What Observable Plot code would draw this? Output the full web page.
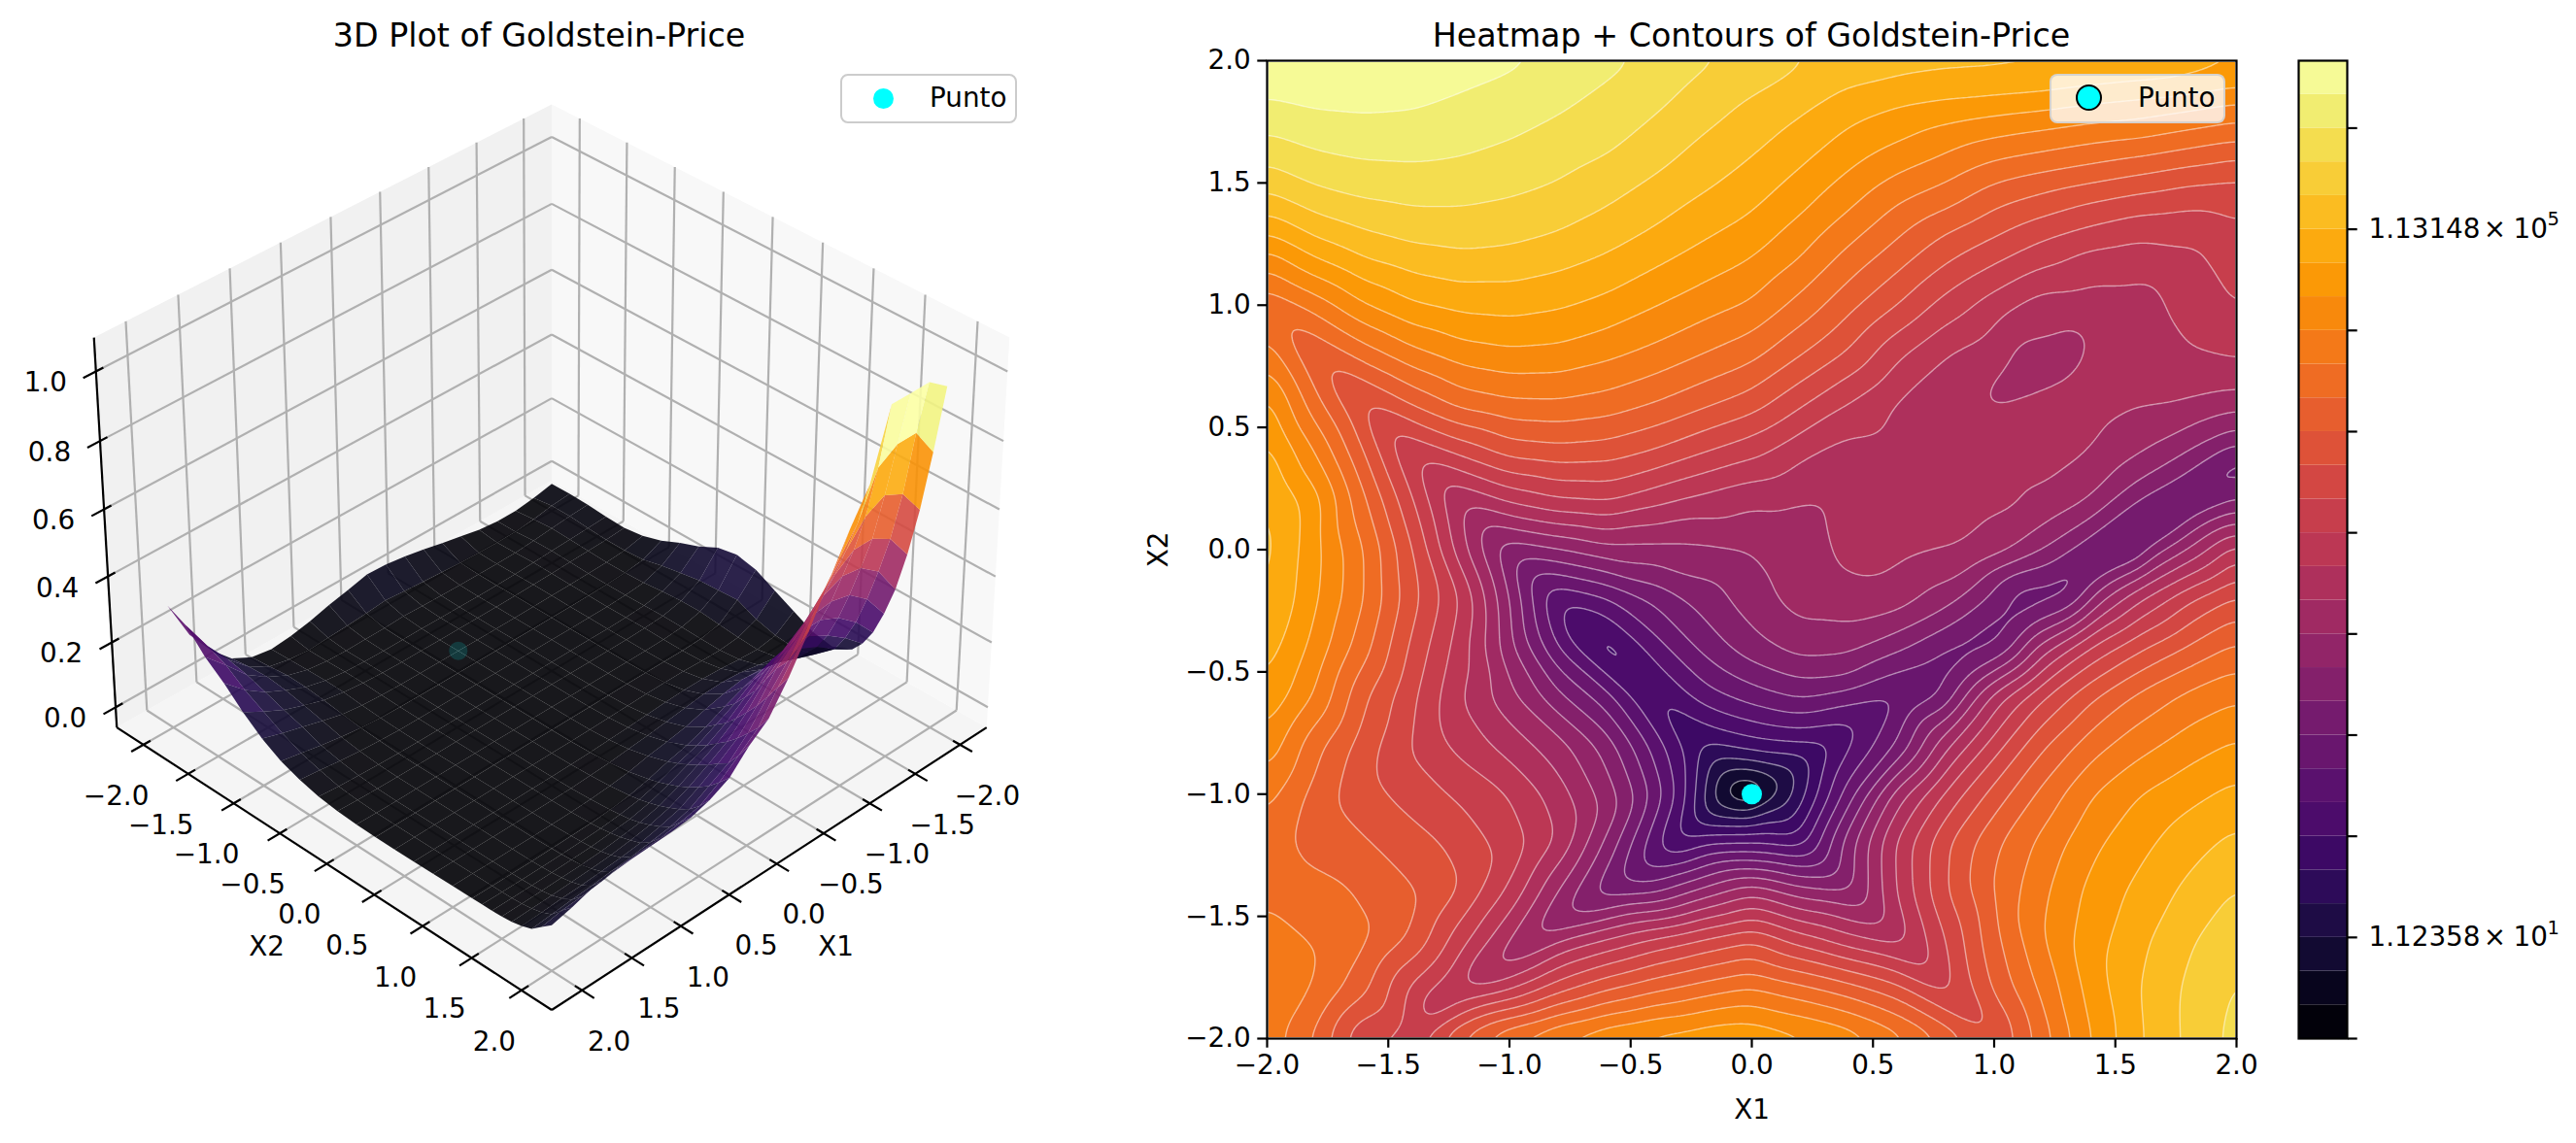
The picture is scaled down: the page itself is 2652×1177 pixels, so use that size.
<!DOCTYPE html>
<html><head><meta charset="utf-8">
<script src="https://cdn.jsdelivr.net/npm/d3@7"></script>
<script src="https://cdn.jsdelivr.net/npm/@observablehq/plot@0.6"></script>
<style>
html,body{margin:0;padding:0;background:#fff}
#page{position:relative;width:2652px;height:1177px;font-family:"DejaVu Sans",sans-serif;color:#000;overflow:hidden}
#page svg{position:absolute;background:transparent;overflow:visible}
.title{position:absolute;top:17px;font-size:33.3px;line-height:40px;transform:translateX(-50%);white-space:nowrap}
.legend{position:absolute;top:76px;height:51px;box-sizing:border-box;border-radius:8px;font-size:27.8px}
.legend .t{position:absolute;top:6px;line-height:34px}
.legend .d{position:absolute;border-radius:50%;background:#0ff}
</style></head><body><div id="page"></div>
<script>
// Grid coordinates
const gridX = [-2,-1.8,-1.6,-1.4,-1.2,-1,-0.8,-0.6,-0.4,-0.2,0,0.2,0.4,0.6,0.8,1,1.2,1.4,1.6,1.8,2];
const gridY = [2,1.9,1.8,1.7,1.6,1.5,1.4,1.3,1.2,1,0.8,0.6,0.4,0.2,0,-0.2,-0.4,-0.6,-0.8,-1,-1.2,-1.4,-1.6,-1.8,-2];
// Function level at each grid point, in colourbar band units (0 = minimum, 29 = maximum), estimated by hand, one row per X2
const rowY200 = [28.9,29,29,29,28.5,28.2,27.8,27.3,26.75,26.15,25.75,25.1,24.7,24.4,24.3,24.25,24.2,24.1,23.95,23.5,23.1];
const rowY190 = [28.35,28.6,28.6,28.5,28.1,27.82,27.45,26.95,26.45,25.75,25.25,24.65,24.05,23.78,23.55,23.5,23.35,23.05,22.8,22.65,22.2];
const rowY180 = [27.7,28,28.1,28,27.75,27.45,27.1,26.6,26.1,25.4,24.7,24.15,23.4,22.9,22.6,22.3,22.05,21.7,21.45,21.05,20.6];
const rowY170 = [27,27.4,27.55,27.55,27.37,27.1,26.7,26.35,25.7,25,24.4,23.7,22.85,22.25,21.6,21.15,20.8,20.45,20.25,19.8,19.4];
const rowY160 = [26.2,26.8,27.05,27.1,26.97,26.7,26.35,25.95,25.3,24.6,23.97,23.2,22.3,21.5,20.85,20.1,19.7,19.3,18.9,18.45,18];
const rowY150 = [25.35,26.1,26.45,26.55,26.5,26.3,25.97,25.45,24.85,24.2,23.55,22.7,21.7,20.7,20,19,18.45,18,17.55,17.1,16.9];
const rowY140 = [24.3,25.25,25.75,26,25.99,25.8,25.5,25,24.35,23.7,23.1,22.2,21.1,19.9,19.1,18.05,17.4,16.75,16.3,16.05,16.2];
const rowY130 = [23.1,24.3,24.95,25.35,25.45,25.35,25,24.45,23.9,23.2,22.6,21.6,20.4,19.2,18.05,17.2,16.35,15.75,15.3,15.3,15.85];
const rowY120 = [21.65,23.1,24.1,24.6,24.85,24.7,24.4,23.95,23.3,22.65,22.05,21.05,19.7,18.5,17.25,16.3,15.4,14.7,14.5,14.85,15.55];
const rowY100 = [19.2,20.45,21.95,22.9,23.3,23.4,23.15,22.7,22.05,21.45,20.87,19.67,18.3,17,15.6,14.5,13.5,13.5,13.6,14.3,15.05];
const rowY080 = [20.6,18.05,19.5,20.7,21.5,21.8,21.7,21.25,20.7,20,19.33,18.07,16.85,15.2,14,13.4,12.75,13.05,13.55,13.9,14.15];
const rowY060 = [22.4,19.35,16.75,18.2,19.4,19.85,19.9,19.6,19,18.25,17.5,16.2,14.95,13.9,13.4,13,13.15,13.15,13.1,12.95,12.2];
const rowY040 = [23.4,21,18,15.1,16.3,17.4,17.65,17.5,16.9,16.05,15.3,14.25,13.6,13.55,13.4,13.2,13.25,13.05,12.1,11,9.1];
const rowY020 = [24.1,22.45,19.2,16.1,13,14.2,14.9,15.1,14.3,13.65,13.15,12.95,13.2,13.35,13.25,13.15,12.9,11.95,9.85,8.6,10.1];
const rowY000 = [24.35,22.3,20.05,17.05,13.4,10.3,10.95,11.7,11.7,11.8,12.05,12.65,13.15,13.3,13.05,12.5,11.05,9.2,8.7,12.1,14.5];
const rowYm020 = [24.15,22.15,20.05,17.35,15,11.05,7.05,7.9,9.25,10.45,11.55,12.45,12.7,12.45,11.5,9.7,8.5,10.85,13.9,15.8,17.2];
const rowYm040 = [23.5,21.65,19.4,16.75,14.5,11.3,8,5.3,7.55,9.3,10.6,11.45,11.3,10.2,9,9,12.4,15.1,16.8,18.1,19.2];
const rowYm060 = [22.85,20.9,18.15,16.2,14.05,12.3,10.25,8.4,5.7,7.5,8.5,9.2,8.5,7.8,9,13.4,15.9,17.8,19.25,20.25,20.85];
const rowYm080 = [21.7,19.3,17.5,15.95,14.65,13.55,12.45,10.6,7.6,4.8,5.55,5.9,6.85,9,12.7,15.5,17.85,19.55,20.65,21.5,22.15];
const rowYm100 = [20.4,18.6,17.4,16.5,15.8,15,13.5,11.55,8.65,4.2,0.05,4.5,8.5,12.5,15.2,17.4,19.3,20.95,22,22.7,23.3];
const rowYm120 = [19.5,18.7,18.1,17.45,16.7,15.5,13.9,10.8,7.3,6.9,7,6.4,10.6,14.2,16.85,18.8,20.3,21.75,22.7,23.6,24.3];
const rowYm140 = [19.8,19.3,18.85,18.1,16.95,14.8,12,9.2,9.8,11.4,12.8,11.5,11,14.1,16.95,19,20.8,22.3,23.3,24.25,25.1];
const rowYm160 = [20.35,19.95,19.2,17.8,15.4,13,13.05,14.2,15.3,16.2,17,15.6,14.45,13.6,16,18.7,20.9,22.55,23.75,24.9,25.6];
const rowYm180 = [20.55,20,18.25,15.7,13.85,14.95,16.7,17.95,18.85,19.55,20.15,19.4,18.55,17.45,15.6,18.15,20.25,22.4,24,25.2,26.15];
const rowYm200 = [20.5,18.75,16,15.5,18.3,20.2,21.25,22,22.5,22.8,22.9,22.35,21.7,20.5,18.9,17.05,19.5,22,23.9,25.2,26.35];
const bandRows = [rowY200,rowY190,rowY180,rowY170,rowY160,rowY150,rowY140,rowY130,rowY120,rowY100,rowY080,rowY060,rowY040,rowY020,rowY000,rowYm020,rowYm040,rowYm060,rowYm080,rowYm100,rowYm120,rowYm140,rowYm160,rowYm180,rowYm200];
// Points: [X1, X2, contour level]
const fanTips = [[-1.328,-1.882,14],[-1.135,-1.756,13],[-.961,-1.637,12],[-.814,-1.538,11],[-.681,-1.452,10],[-.567,-1.379,9],[-.474,-1.313,8],[-.387,-1.26,7],[-.314,-1.214,6],[-.254,-1.141,5]];
const lobeTips = [[-1.976,.975,19],[-1.809,.806,18],[-1.662,.661,17],[-1.533,.528,16],[-1.416,.409,15],[-1.311,.306,14],[-1.215,.21,13],[-1.135,.131,12],[-1.061,.052,11],[-.995,-.016,10],[-.935,-.082,9],[-.875,-.142,8],[-.808,-.201,7],[-.741,-.294,6]];
const lowerRightTips = [[1.007,-1.975,17],[.873,-1.869,16],[.76,-1.75,15],[.66,-1.65,14],[.573,-1.558,13],[.493,-1.478,12],[.426,-1.412,11],[.366,-1.353,10],[.312,-1.3,9],[.266,-1.253,8]];
const centreRings = [[.64,-.572,8],[.453,-.697,7],[.332,-.777,6],[.252,-.836,5],[.186,-.876,4],[.132,-.942,3],[.079,-.962,2],[-.254,-.757,5],[-.18,-.836,4],[-.133,-.889,3],[-.107,-.942,2],[-.08,-.995,1],[-.207,-1.088,4],[-.167,-1.061,3],[-.134,-1.022,2]];
const valleyFloor = [[.746,-.506,8.5],[.87,-.43,8.5],[.987,-.347,8.5],[1.1,-.26,8.5],[1.227,-.175,8.5],[1.35,-.09,8.5],[1.48,-.016,8.5],[1.614,.065,8.5],[1.8,.2,8.5],[1.995,.329,8.5]];
const valleyFlanks = [[.479,-.545,9],[1.08,-.148,9],[1.467,.03,9],[.8,-.6,9],[1.04,-.4,9],[1.307,-.2,9],[1.587,.02,9],[.413,-.519,10],[.88,-.267,10],[1.36,.024,10],[.84,-.6,10],[1.08,-.4,10],[1.36,-.2,10],[1.64,.017,10],[.613,-.254,12],[.92,-.056,12],[.927,-.6,12],[1.167,-.4,12],[1.454,-.2,12],[1.995,.383,9],[1.995,.429,10],[1.547,.171,10],[1.995,.49,11],[1.614,.29,11],[1.347,.092,11],[1.995,.556,12],[1.681,.435,12],[1.414,.223,12],[1.053,-.015,12],[1.995,.642,13],[1.614,.581,13],[1.48,.502,13],[1.28,.304,13],[1.08,.131,13],[.853,-.015,13]];
const sCurveLeft = [[-1.909,-1.18,19],[-1.722,-1.035,18],[-1.558,-.916,17],[-1.418,-.823,16],[-1.295,-.717,15],[-1.195,-.625,14]];
const sCurveRight = [[-1.551,-1.544,19],[-1.362,-1.432,18],[-1.198,-1.353,17],[-1.052,-1.273,16],[-.921,-1.207,15],[-.808,-1.154,14],[-.708,-1.101,13],[-.621,-1.075,12],[-.541,-1.048,11],[-.474,-1.022,10],[-.42,-1.008,9],[-.36,-.995,8],[-.314,-.995,7],[-.267,-1.022,6]];
const rightBulges = [[.733,-1.313,16],[.814,-1.313,17],[.893,-1.353,18],[.987,-1.366,19],[1.087,-1.498,20],[1.2,-1.564,21],[1.32,-1.63,22],[1.454,-1.697,23],[1.6,-1.829,24],[1.761,-1.895,25]];
const upperRightBends = [[1.654,1.11,14],[1.72,.964,14],[1.814,.832,14],[1.84,1.27,15],[1.908,1.151,15],[1.868,1.394,16],[.252,.23,13],[.332,.197,13],[.319,0,13],[.359,-.095,13],[.493,-.138,13]];
const ellipse = [[.933,.627,13],[1.4,.885,13],[1.32,.945,13],[1.08,.86,13],[1.214,.661,13],[1,.7,13],[1.35,.78,13],[1.1,.72,12.7],[1.25,.78,12.7],[1.0,.67,12.85],[1.3,.86,12.85]];
const cornerCurve = [[-2,-1.452,20],[-1.769,-1.657,20],[-1.923,-1.994,20],[-1.669,-1.366,19],[-1.856,-1.286,19]];

const axisTicks = [-2,-1.5,-1,-0.5,0,0.5,1,1.5,2];
const zTicks = [0,0.2,0.4,0.6,0.8,1];
const point = {x:0, y:-1, z:0};
const barTicks = [0,3,6,9,12,15,18,21,24,27];
const barMantissas = [{t:3,m:"1.12358",e:"1"},{t:24,m:"1.13148",e:"5"}];
const bandCount = 29;
const logMin = 0.4787, logPerBand = 0.19062, fMax = 1.015e6;

const FONT = '"DejaVu Sans", sans-serif', FS = 27.8, LW = 2.2;
const page = document.getElementById("page");
const bandColors = d3.range(bandCount).map(i => d3.interpolateInferno((i + .5) / bandCount));
const colorScale = {type:"threshold", domain:d3.range(1,bandCount), range:bandColors};
const zOf = b => Math.pow(10, logMin + logPerBand*b) / fMax;

const gridPoints = bandRows.flatMap((r,j) => r.map((b,i) => ({x:gridX[i], y:gridY[j], b})));
const linePoints = [...fanTips,...lobeTips,...lowerRightTips,...centreRings,...valleyFloor,...valleyFlanks,...sCurveLeft,...sCurveRight,...rightBulges,...upperRightBends,...ellipse,...cornerCurve].map(([x,y,b])=>({x,y,b}));
const contourPoints = [...gridPoints,...linePoints];

/* ---------- 3D panel: matplotlib-like perspective (elev 35, azim 45) ---------- */
const L = 2.3, zLo = -0.063, zHi = 1.096;
const bx = 1.1905, bz = 0.8929;
const U = [-.7071,.7071,0], V = [-.4056,-.4056,.8192], W = [.5792,.5792,.5736];
function proj(x,y,z){
  const p = [((x+L)/(2*L)-.5)*bx, ((y+L)/(2*L)-.5)*bx, ((z-zLo)/(zHi-zLo)-.5)*bz];
  const dot = (a,b)=>a[0]*b[0]+a[1]*b[1]+a[2]*b[2];
  const d = 10 - dot(W,p);
  return {px:567.5+5455*dot(U,p)/d, py:553-5485*dot(V,p)/d, depth:d};
}
function polyRows(polys){
  return polys.flatMap(q => q.pts.map(pt => { const s=proj(...pt); return {id:q.id, c:q.c, px:s.px, py:s.py}; }));
}
const panes = [
  {id:"floor", c:"#f5f5f5", pts:[[-L,-L,zLo],[L,-L,zLo],[L,L,zLo],[-L,L,zLo]]},
  {id:"wallL", c:"#f1f1f1", pts:[[-L,-L,zLo],[L,-L,zLo],[L,-L,zHi],[-L,-L,zHi]]},
  {id:"wallR", c:"#f8f8f8", pts:[[-L,-L,zLo],[-L,L,zLo],[-L,L,zHi],[-L,-L,zHi]]}
];
const seg = (a,b) => { const p=proj(...a), q=proj(...b); return {x1:p.px,y1:p.py,x2:q.px,y2:q.py}; };
const grid3d = [
  ...axisTicks.flatMap(t => [seg([t,-L,zLo],[t,L,zLo]), seg([-L,t,zLo],[L,t,zLo]), seg([t,-L,zLo],[t,-L,zHi]), seg([-L,t,zLo],[-L,t,zHi])]),
  ...zTicks.flatMap(t => [seg([-L,-L,t],[L,-L,t]), seg([-L,-L,t],[-L,L,t])])
];
const axes3d = [seg([L,-L,zLo],[L,-L,zHi]), seg([-L,L,zLo],[L,L,zLo]), seg([L,-L,zLo],[L,L,zLo])];
const ticks3d = [
  ...axisTicks.flatMap(t => [seg([t,L-.07,zLo],[t,L+.12,zLo]), seg([L-.07,t,zLo],[L+.12,t,zLo])]),
  ...zTicks.map(t => seg([L-.07,-L,t],[L+.12,-L,t]))
];
const fmt = d3.format(".1f");
const labels3d = [
  ...axisTicks.map(t => { const p=proj(t,L,zLo); return {px:p.px+28,py:p.py+53,s:fmt(t)}; }),
  ...axisTicks.map(t => { const p=proj(L,t,zLo); return {px:p.px-28,py:p.py+53,s:fmt(t)}; }),
  ...zTicks.map(t => { const p=proj(L,-L,t); return {px:p.px-52,py:p.py+12,s:fmt(t)}; })
];
const names3d = [{px:860,py:975,s:"X1"},{px:274,py:975,s:"X2"}];

const quads = [];
for (let j=0;j<gridY.length-1;j++) for (let i=0;i<gridX.length-1;i++){
  const c=[[i,j],[i+1,j],[i+1,j+1],[i,j+1]].map(([a,b])=>[gridX[a],gridY[b],zOf(bandRows[b][a])]);
  const mz=d3.mean(c,d=>d[2]);
  const mx=d3.mean(c,d=>d[0]), my=d3.mean(c,d=>d[1]);
  quads.push({id:`q${i}_${j}`, mz, pts:c, dd:proj(mx,my,mz).depth});
}
const [mzMin,mzMax] = d3.extent(quads,q=>q.mz);
quads.forEach(q => { q.c = d3.interpolateInferno((q.mz-mzMin)/(mzMax-mzMin)); });
quads.sort((a,b)=>b.dd-a.dd);
const dotP = proj(point.x,point.y,point.z);

const left = Plot.plot({
  width:1170, height:1177, margin:0,
  x:{type:"identity",axis:null}, y:{type:"identity",axis:null},
  color:{type:"identity"},
  style:{fontFamily:FONT,background:"transparent"},
  marks:[
    Plot.line(polyRows(panes),{x:"px",y:"py",z:"id",fill:"c",stroke:"none"}),
    Plot.link(grid3d,{x1:"x1",y1:"y1",x2:"x2",y2:"y2",stroke:"#b0b0b0",strokeWidth:LW}),
    Plot.link(axes3d,{x1:"x1",y1:"y1",x2:"x2",y2:"y2",stroke:"#000",strokeWidth:LW}),
    Plot.link(ticks3d,{x1:"x1",y1:"y1",x2:"x2",y2:"y2",stroke:"#000",strokeWidth:LW}),
    Plot.line(polyRows(quads),{x:"px",y:"py",z:"id",fill:"c",fillOpacity:.9,stroke:"none"}),
    Plot.dot([dotP],{x:"px",y:"py",r:9.5,fill:"#00ffff",fillOpacity:.15,stroke:"none"}),
    Plot.text(labels3d,{x:"px",y:"py",text:"s",fontSize:FS,fill:"#000"}),
    Plot.text(names3d,{x:"px",y:"py",text:"s",fontSize:FS,fill:"#000"})
  ]
});
left.style.left="0px"; left.style.top="0px";
page.append(left);

/* ---------- Heatmap panel ---------- */
const cOpts = {x:"x",y:"y",interpolate:"barycentric",pixelSize:2,blur:5};
const mL=130,mR=22,mT=62,mB=108;
const heat = Plot.plot({
  width:998+mL+mR, height:1177, marginLeft:mL, marginRight:mR, marginTop:mT, marginBottom:mB,
  x:{domain:[-2,2]}, y:{domain:[-2,2]},
  color:colorScale,
  style:{fontFamily:FONT,background:"transparent"},
  marks:[
    Plot.contour(contourPoints,{...cOpts,fill:"b",thresholds:d3.range(0,bandCount),stroke:"none"}),
    Plot.contour(contourPoints,{...cOpts,value:"b",thresholds:d3.range(1,bandCount),fill:"none",stroke:"#fff",strokeOpacity:.5,strokeWidth:1.4}),
    Plot.dot([point],{x:"x",y:"y",r:10.5,fill:"#00ffff",stroke:"none"}),
    Plot.frame({stroke:"#000",strokeWidth:LW}),
    Plot.axisX({ticks:axisTicks,tickSize:9.7,tickPadding:7,tickFormat:fmt,fontSize:FS,strokeWidth:LW,label:"X1",labelAnchor:"center",labelArrow:"none",labelOffset:82}),
    Plot.axisY({ticks:axisTicks,tickSize:9.7,tickPadding:7,tickFormat:fmt,fontSize:FS,strokeWidth:LW,label:"X2",labelAnchor:"center",labelArrow:"none",labelOffset:122})
  ]
});
heat.style.left=(1304-mL)+"px"; heat.style.top="0px";
page.append(heat);

/* ---------- Colourbar ---------- */
const barRows = d3.range(bandCount).map(i => ({y1:i,y2:i+1,v:i}));
const bar = Plot.plot({
  width:286, height:1177, marginLeft:0, marginRight:236, marginTop:mT, marginBottom:mB,
  x:{domain:[0,1],axis:null}, y:{domain:[0,bandCount],axis:null},
  color:colorScale,
  style:{fontFamily:FONT,background:"transparent"},
  marks:[
    Plot.rect(barRows,{x1:0,x2:1,y1:"y1",y2:"y2",fill:"v"}),
    Plot.frame({stroke:"#000",strokeWidth:LW}),
    Plot.axisY({anchor:"right",ticks:barTicks,tickSize:9.7,tickFormat:()=>"",strokeWidth:LW,label:null}),
    Plot.text(barMantissas,{x:1,y:"t",text:"m",dx:22,textAnchor:"start",fontSize:FS,fill:"#000"}),
    Plot.text(barMantissas,{x:1,y:"t",text:()=>"×",dx:152,textAnchor:"middle",fontSize:FS,fill:"#000"}),
    Plot.text(barMantissas,{x:1,y:"t",text:()=>"10",dx:171,textAnchor:"start",fontSize:FS,fill:"#000"}),
    Plot.text(barMantissas,{x:1,y:"t",text:"e",dx:206,dy:-10,textAnchor:"start",fontSize:19.5,fill:"#000"})
  ]
});
bar.style.left="2366px"; bar.style.top="0px";
page.append(bar);

/* ---------- Titles and legends ---------- */
function el(cls,text,css){const d=document.createElement("div");d.className=cls;if(text)d.textContent=text;Object.assign(d.style,css||{});return d;}
page.append(el("title","3D Plot of Goldstein-Price",{left:"555px"}));
page.append(el("title","Heatmap + Contours of Goldstein-Price",{left:"1803px"}));
const lg1=el("legend","",{left:"865px",width:"182px",background:"#fff",border:"2.2px solid #ccc"});
lg1.append(el("d","",{left:"32px",top:"13px",width:"21px",height:"21px"}));
lg1.append(el("t","Punto",{left:"90px"}));
page.append(lg1);
const lg2=el("legend","",{left:"2110px",width:"181px",background:"rgba(255,255,255,.8)",border:"2.2px solid rgba(204,204,204,.8)"});
lg2.append(el("d","",{left:"25px",top:"9px",width:"23px",height:"23px",border:"2.8px solid #000"}));
lg2.append(el("t","Punto",{left:"89px"}));
page.append(lg2);
</script></body></html>
